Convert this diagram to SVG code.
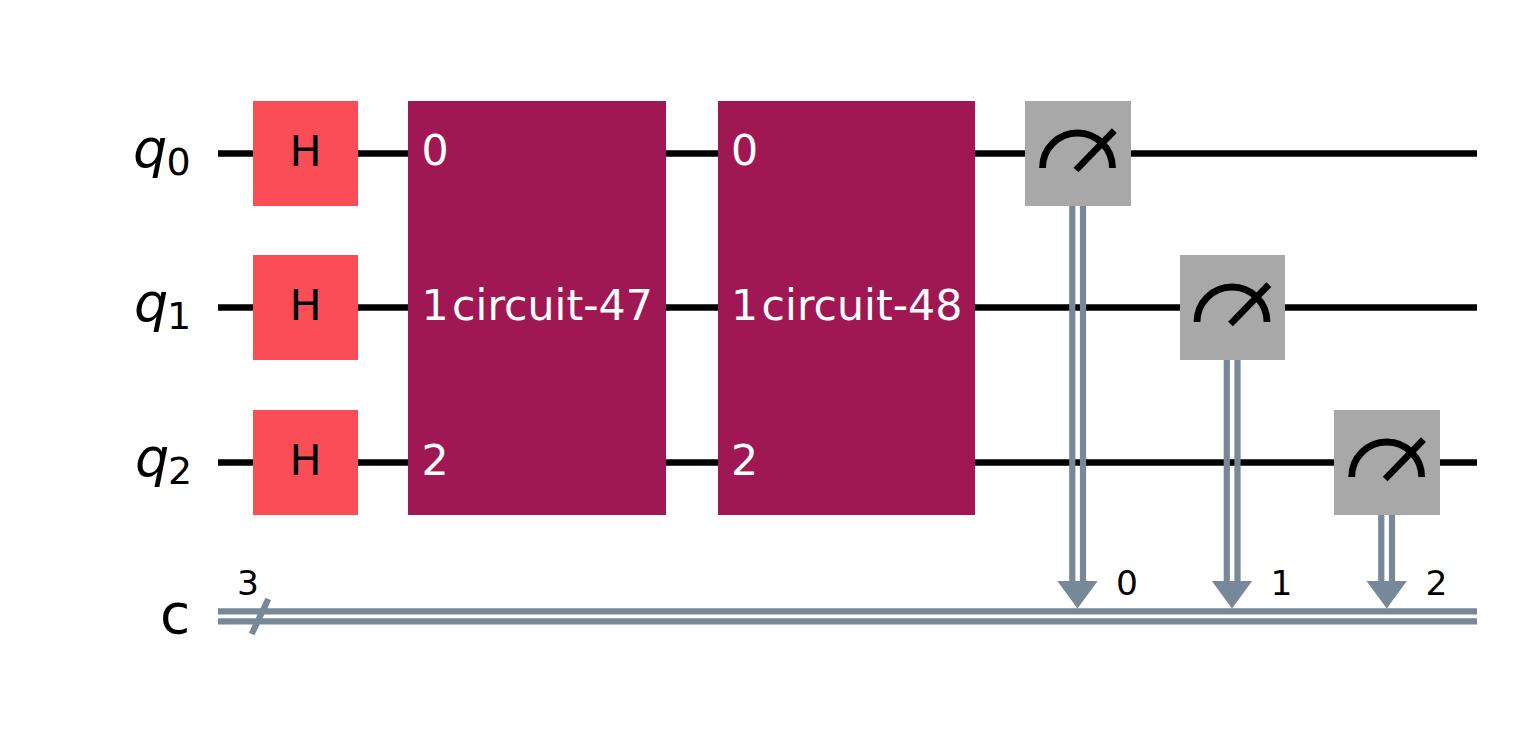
<svg xmlns="http://www.w3.org/2000/svg" width="1518" height="739" viewBox="0 0 1518 739">
<style>
text{font-family:"DejaVu Sans",sans-serif}
.w{stroke:#000;stroke-width:6.500;fill:none}
.c{stroke:#778899;stroke-width:6.200;fill:none}
.a{fill:#778899}
.h{fill:#FA4D56}
.u{fill:#9F1853}
.m{fill:#A8A8A8}
.t{font-size:42.700px;fill:#000;text-anchor:middle}
.p{font-size:42.700px;fill:#fff;text-anchor:middle}
.n{font-size:34.500px;fill:#000;text-anchor:middle}
.l{font-size:54px;font-style:italic;fill:#000}
.s{font-size:38px;fill:#000}
.i{stroke:#000;stroke-width:6.800;fill:none}
</style>
<defs>
<g id="meter"><path class="i" d="M-35 14.500A35 35 0 0 1 35 14.500"/><path class="i" d="M-1.500 16.500L36.800-22.800"/></g>
</defs>
<rect width="1518" height="739" fill="#fff"/>
<g id="connectors">
<path class="w" d="M218 153.500H1477M218 307.500H1477M218 462.500H1477"/>
<path class="c" d="M218 611.300H1477M218 621.300H1477M251.700 634L268.300 599"/>
<path class="c" d="M1072.300 206V590M1083 206V590M1226.800 360V590M1237.500 360V590M1381.300 515V590M1392 515V590"/>
<path class="a" d="M1057.300 581H1097.700L1077.500 608.500ZM1211.800 581H1252.200L1232 608.500ZM1366.500 581H1406.900L1386.700 608.500Z"/>
</g>
<g id="label-q0"><text class="l" x="133" y="167">q</text><text class="s" x="166.500" y="175">0</text></g>
<g id="label-q1"><text class="l" x="134" y="321">q</text><text class="s" x="167" y="329">1</text></g>
<g id="label-q2"><text class="l" x="135" y="476">q</text><text class="s" x="168" y="484">2</text></g>
<g id="label-c"><text x="160" y="633" style="font-size:55px;fill:#000">c</text></g>
<g id="label-3"><text class="n" x="248" y="594.500">3</text></g>
<g id="h0"><rect class="h" x="253" y="101" width="105" height="105"/><text class="t" x="305.500" y="166">H</text></g>
<g id="h1"><rect class="h" x="253" y="255" width="105" height="105"/><text class="t" x="305.500" y="320">H</text></g>
<g id="h2"><rect class="h" x="253" y="410" width="105" height="105"/><text class="t" x="305.500" y="475">H</text></g>
<g id="circuit-47"><rect class="u" x="408" y="101" width="258" height="414"/>
<text class="p" x="435" y="165">0</text><text class="p" x="435" y="320">1</text><text class="p" x="435" y="475">2</text><text class="p" x="552.500" y="320">circuit-47</text></g>
<g id="circuit-48"><rect class="u" x="718" y="101" width="257" height="414"/>
<text class="p" x="744.500" y="165">0</text><text class="p" x="744.500" y="320">1</text><text class="p" x="744.500" y="475">2</text><text class="p" x="862" y="320">circuit-48</text></g>
<g id="measure-0"><rect class="m" x="1025" y="101" width="106" height="105"/><use href="#meter" x="1077.500" y="153.500"/></g>
<g id="measure-1"><rect class="m" x="1180" y="255" width="105" height="105"/><use href="#meter" x="1232" y="307.500"/></g>
<g id="measure-2"><rect class="m" x="1334" y="410" width="106" height="105"/><use href="#meter" x="1386.700" y="462.500"/></g>
<g id="cbit-0"><text class="n" x="1127" y="594.500">0</text></g>
<g id="cbit-1"><text class="n" x="1281.500" y="594.500">1</text></g>
<g id="cbit-2"><text class="n" x="1436.500" y="594.500">2</text></g>
</svg>
